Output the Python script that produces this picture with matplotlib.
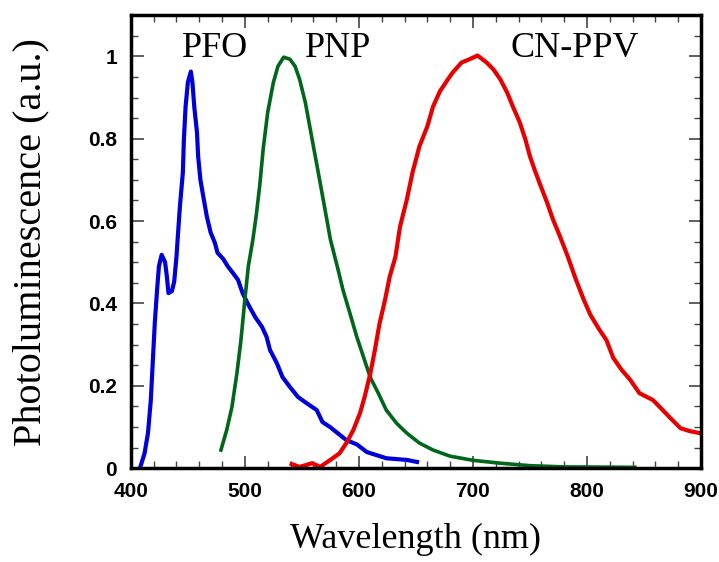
import matplotlib
matplotlib.use("Agg")
import matplotlib.pyplot as plt
from matplotlib.ticker import MultipleLocator, FuncFormatter

# PFO (blue)
pfo_wl = [408, 412, 415, 417.5, 419, 421, 423, 424.6, 427, 430, 431.6, 433, 436, 438, 440,
          441, 443, 445.6, 446.5, 448, 450, 452.6, 454, 455.6, 458, 459, 461, 464, 466.7, 470,
          473.7, 476, 481, 485, 489.5, 494, 498, 503, 509, 515, 519, 522, 528, 533, 539.5,
          546.5, 554, 563, 568, 574.6, 580, 589, 598, 607, 615, 624, 633, 642, 651]
pfo_pl = [0.0, 0.036, 0.085, 0.165, 0.246, 0.353, 0.433, 0.49, 0.518, 0.5, 0.465, 0.425, 0.43, 0.453, 0.513,
          0.555, 0.635, 0.718, 0.798, 0.878, 0.937, 0.963, 0.937, 0.878, 0.815, 0.757, 0.7, 0.652, 0.61, 0.572,
          0.547, 0.523, 0.508, 0.49, 0.474, 0.457, 0.425, 0.397, 0.367, 0.343, 0.319, 0.287, 0.255, 0.221, 0.197,
          0.173, 0.158, 0.141, 0.112, 0.1, 0.088, 0.068, 0.058, 0.039, 0.032, 0.024, 0.022, 0.02, 0.015]

# PNP (green)
pnp_wl = [479, 484, 488.6, 493, 496.5, 500, 503, 507, 510, 513, 516, 520, 525, 529, 534,
          539.5, 544, 548, 553, 559, 566, 573, 575, 581, 586, 592, 598, 604, 610, 617,
          624, 633, 642, 653, 665, 680, 700, 724, 750, 780, 842]
pnp_pl = [0.044, 0.092, 0.148, 0.23, 0.31, 0.41, 0.49, 0.555, 0.615, 0.686, 0.774, 0.864, 0.937, 0.976, 0.998,
          0.993, 0.976, 0.944, 0.888, 0.798, 0.693, 0.586, 0.555, 0.49, 0.433, 0.377, 0.32, 0.27, 0.22, 0.182,
          0.141, 0.109, 0.085, 0.061, 0.044, 0.029, 0.019, 0.012, 0.006, 0.003, 0.002]

# CN-PPV (red)
cnppv_wl = [541, 548, 559, 566, 577, 583, 589, 595, 601, 605, 610, 614, 618, 623, 627,
            632, 636, 642, 647, 653, 660, 665, 671, 677, 682, 690, 697, 704, 712, 718,
            724, 730, 735, 741, 746, 750, 754, 759, 765, 770, 776, 783, 790, 797, 803,
            810, 817, 823, 830, 838, 846, 858, 865, 873, 882, 890, 899]
cnppv_pl = [0.01, 0.003, 0.012, 0.003, 0.024, 0.036, 0.061, 0.092, 0.134, 0.173, 0.23, 0.287, 0.35, 0.41, 0.465,
            0.513, 0.586, 0.652, 0.718, 0.781, 0.83, 0.878, 0.915, 0.94, 0.96, 0.985, 0.993, 1.002, 0.985, 0.968,
            0.944, 0.912, 0.878, 0.84, 0.798, 0.757, 0.725, 0.688, 0.645, 0.605, 0.565, 0.515, 0.46, 0.41, 0.372,
            0.34, 0.311, 0.268, 0.24, 0.214, 0.182, 0.165, 0.145, 0.122, 0.097, 0.09, 0.085]

fig = plt.figure(figsize=(7.19, 5.62), dpi=100)
ax = fig.add_axes([0.182, 0.167, 0.793, 0.806])

ax.plot(pfo_wl, pfo_pl, color="#0000dd", lw=3)
ax.plot(pnp_wl, pnp_pl, color="#00661a", lw=2.6)
ax.plot(cnppv_wl, cnppv_pl, color="#e80000", lw=3)

serif = ["Liberation Serif", "DejaVu Serif"]
ax.text(474, 1.02, "PFO", family=serif, fontsize=26, ha="center", va="center")
ax.text(582, 1.02, "PNP", family=serif, fontsize=26, ha="center", va="center")
ax.text(789, 1.02, "CN-PPV", family=serif, fontsize=26, ha="center", va="center")

ax.set_xlim(400, 900)
ax.set_ylim(0, 1.1)
ax.xaxis.set_major_locator(MultipleLocator(100))
ax.xaxis.set_minor_locator(MultipleLocator(20))
ax.yaxis.set_major_locator(MultipleLocator(0.2))
ax.yaxis.set_minor_locator(MultipleLocator(0.05))
ax.yaxis.set_major_formatter(FuncFormatter(lambda v, p: "%g" % round(v, 2)))

ax.tick_params(which="both", direction="in", top=True, right=True, color="#444444")
ax.tick_params(which="major", length=9, width=1.2, pad=10)
ax.tick_params(which="minor", length=5, width=1.0)
for lab in ax.get_xticklabels() + ax.get_yticklabels():
    lab.set_family(["Liberation Sans", "DejaVu Sans"])
    lab.set_fontweight("bold")
    lab.set_fontsize(15)

for s in ax.spines.values():
    s.set_linewidth(2.5)

ax.set_xlabel("Wavelength (nm)", family=serif, fontsize=26, labelpad=16)
ax.set_ylabel("Photoluminescence (a.u.)", family=serif, fontsize=29, labelpad=28)

fig.savefig("out.png", dpi=100)
